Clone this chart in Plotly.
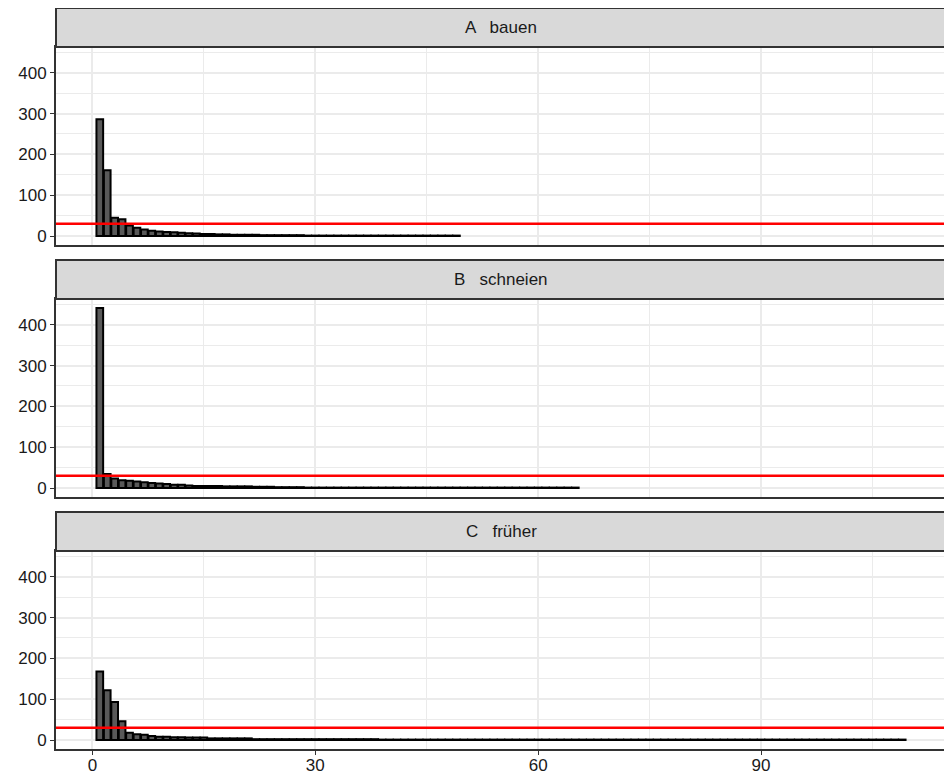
import plotly.graph_objects as go

# ---- data ----
panel_labels = ["A   bauen", "B   schneien", "C   früher"]

counts_A = [286, 161, 45, 41, 26, 20, 16, 13, 11, 10, 9, 8, 7, 6, 5, 5, 4, 4, 3, 3,
            3, 3, 2, 2, 2, 2, 2, 2, 1, 1, 1, 1, 1, 1, 1, 1, 1, 1, 1, 1,
            1, 1, 1, 1, 1, 1, 1, 1, 1]

counts_B = [441, 34, 23, 19, 18, 16, 14, 12, 11, 10, 8, 8, 6, 5, 5, 5, 5, 4, 4, 4,
            4, 3, 3, 3, 2, 2, 2, 2, 1, 1, 1, 1, 1, 1, 1, 1, 1, 1, 1, 1,
            1, 1, 1, 1, 1, 1, 1, 1, 1, 1, 1, 1, 1, 1, 1, 1, 1, 1, 1, 1,
            1, 1, 1, 1, 1]

counts_C = [168, 122, 93, 46, 18, 14, 13, 10, 8, 8, 7, 7, 6, 6, 6, 4, 4, 4, 4, 4,
            4, 2, 2, 2, 2, 2, 2, 2, 2, 2, 2, 2, 2, 2, 2, 2, 2, 2, 1, 1,
            1, 1, 1, 1, 1, 1, 1, 1, 1, 1, 1, 1, 1, 1, 1, 1, 1, 1, 1, 1,
            1, 1, 1, 1, 1, 1, 1, 1, 1, 1, 1, 1, 1, 1, 1, 1, 1, 1, 1, 1,
            1, 1, 1, 1, 1, 1, 1, 1, 1, 1, 1, 1, 1, 1, 1, 1, 1, 1, 1, 1,
            1, 1, 1, 1, 1, 1, 1, 1, 1]

threshold = 30
x_ticks = [0, 30, 60, 90]
x_minor = [15, 45, 75, 105]
y_ticks = [0, 100, 200, 300, 400]
y_minor = [50, 150, 250, 350, 450]

series = [counts_A, counts_B, counts_C]

# ---- layout geometry (paper fractions, paper height = 741 px) ----
PH = 741.0
plot_domains = [[504 / PH, 702 / PH], [252 / PH, 450 / PH], [0.0, 198 / PH]]
strip_h = 39 / PH

all_max = max(max(s) for s in series)
xmin, xmax = 0.55, max(len(s) for s in series) + 0.45
xpad = (xmax - xmin) * 0.05
ypad = all_max * 0.05
x_range = [xmin - xpad, xmax + xpad]
y_range = [-ypad, all_max + ypad]

fig = go.Figure()
font_family = "Liberation Sans, Arial, Helvetica, sans-serif"
grid_c = "#EBEBEB"
border_c = "#333333"
text_c = "#1A1A1A"

shapes = []
annotations = []
for i, vals in enumerate(series):
    n = i + 1
    xa = "x" if n == 1 else f"x{n}"
    ya = "y" if n == 1 else f"y{n}"
    fig.add_trace(go.Bar(
        x=list(range(1, len(vals) + 1)), y=vals,
        marker=dict(color="#595959", line=dict(color="black", width=2)),
        xaxis=xa, yaxis=ya, showlegend=False, hoverinfo="x+y",
    ))
    shapes.append(dict(type="line", xref=f"{xa} domain", yref=ya,
                       x0=0, x1=1, y0=threshold, y1=threshold,
                       line=dict(color="#FF0000", width=2.4), layer="above"))
    d = plot_domains[i]
    shapes.append(dict(type="rect", xref="paper", yref="paper",
                       x0=0, x1=1, y0=d[1], y1=min(d[1] + strip_h, 1.0),
                       fillcolor="#D9D9D9", line=dict(color=border_c, width=2),
                       layer="above"))
    annotations.append(dict(text=panel_labels[i], xref="paper", yref="paper",
                            x=0.5, y=d[1] + strip_h / 2, showarrow=False,
                            xanchor="center", yanchor="middle",
                            font=dict(size=17, color=text_c, family=font_family)))

    last = (n == 3)
    xaxis_cfg = dict(
        range=x_range, domain=[0, 1], anchor=ya,
        tickmode="array", tickvals=x_ticks,
        showticklabels=last, ticks="outside" if last else "",
        ticklen=4, tickcolor=border_c, tickwidth=1.2,
        showgrid=True, gridcolor=grid_c, gridwidth=2,
        minor=dict(tickmode="array", tickvals=x_minor, showgrid=True,
                   gridcolor=grid_c, gridwidth=1, ticks=""),
        showline=True, mirror=True, linecolor=border_c, linewidth=2,
        zeroline=False, fixedrange=True, automargin=False,
        tickfont=dict(size=17, color=text_c, family=font_family),
    )
    if last:
        xaxis_cfg["ticklabelstandoff"] = -4
    yaxis_cfg = dict(
        range=y_range, domain=d, anchor=xa,
        tickmode="array", tickvals=y_ticks,
        ticks="outside", ticklen=4, tickcolor=border_c, tickwidth=1.2,
        showgrid=True, gridcolor=grid_c, gridwidth=2,
        minor=dict(tickmode="array", tickvals=y_minor, showgrid=True,
                   gridcolor=grid_c, gridwidth=1, ticks=""),
        showline=True, mirror=True, linecolor=border_c, linewidth=2,
        zeroline=False, fixedrange=True, automargin=False,
        tickfont=dict(size=17, color=text_c, family=font_family),
    )
    fig.layout["xaxis" if n == 1 else f"xaxis{n}"] = xaxis_cfg
    fig.layout["yaxis" if n == 1 else f"yaxis{n}"] = yaxis_cfg

fig.update_layout(
    width=940, height=766,
    margin=dict(l=48, r=2, t=0, b=25, autoexpand=False),
    paper_bgcolor="white", plot_bgcolor="white",
    bargap=0.1, shapes=shapes, annotations=annotations,
    font=dict(family=font_family),
)

fig.write_html("out.html")
